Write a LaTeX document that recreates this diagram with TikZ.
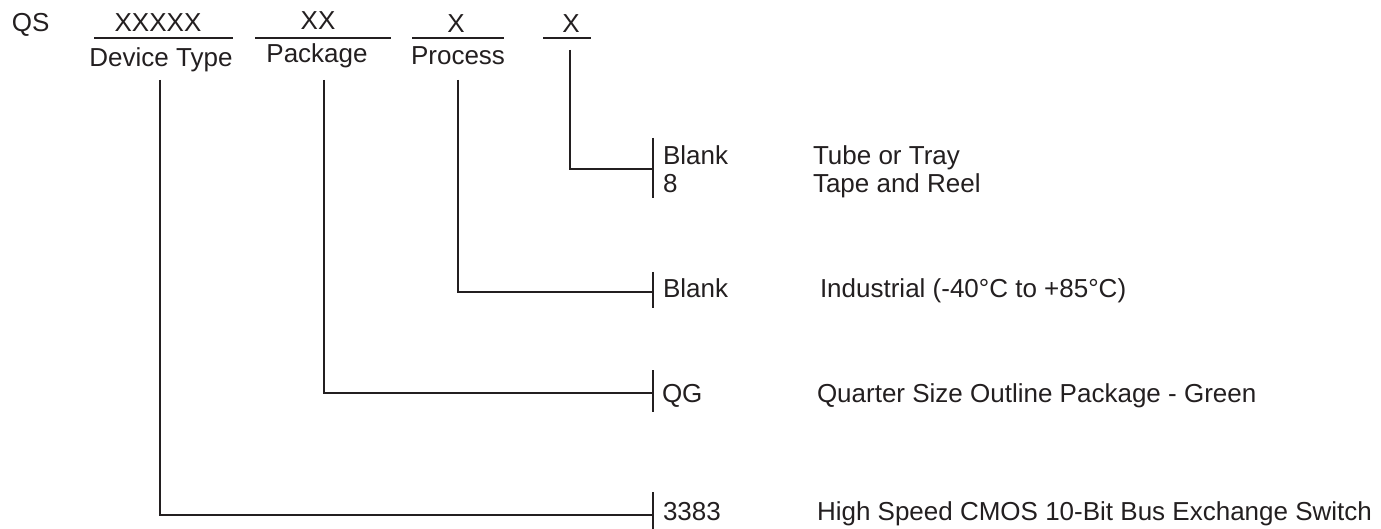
\documentclass[tikz,border=0pt]{standalone}
\usepackage{fontspec}
\setmainfont{Liberation Sans}
\definecolor{ink}{HTML}{231F20}
\begin{document}
\begin{tikzpicture}[x=1pt,y=-1pt,
  lbl/.style={inner sep=0pt,outer sep=0pt,text=ink,font=\fontsize{26}{30}\selectfont},
  ln/.style={draw=ink,line width=2pt}]
\useasboundingbox (0,0) rectangle (1381,529);
% header
\node[lbl,anchor=base west] (qs) at (12,32) {QS};
\node[lbl,anchor=base] (f1) at (158,32) {XXXXX};
\node[lbl,anchor=base] (f2) at (318,30) {XX};
\node[lbl,anchor=base] (f3) at (456,33) {X};
\node[lbl,anchor=base] (f4) at (571,33) {X};
\node[lbl,anchor=base] (dt) at (161,67) {Device Type};
\node[lbl,anchor=base] (pk) at (317,63) {Package};
\node[lbl,anchor=base] (pr) at (458,65) {Process};
% underlines
\coordinate (u1a) at (94,38);  \coordinate (u1b) at (233,38);
\coordinate (u2a) at (255,38); \coordinate (u2b) at (391,38);
\coordinate (u3a) at (412,38); \coordinate (u3b) at (504,38);
\coordinate (u4a) at (543,38); \coordinate (u4b) at (591,38);
\draw[ln] (u1a) -- (u1b);
\draw[ln] (u2a) -- (u2b);
\draw[ln] (u3a) -- (u3b);
\draw[ln] (u4a) -- (u4b);
% branch start points
\coordinate (v1) at (160,80);
\coordinate (v2) at (324,80);
\coordinate (v3) at (458,80);
\coordinate (v4) at (570,50);
% tick bars
\coordinate (t1a) at (653,138); \coordinate (t1b) at (653,198); \coordinate (t1) at (653,169);
\coordinate (t2a) at (653,272); \coordinate (t2b) at (653,308); \coordinate (t2) at (653,292);
\coordinate (t3a) at (653,370); \coordinate (t3b) at (653,412); \coordinate (t3) at (653,393);
\coordinate (t4a) at (653,492); \coordinate (t4b) at (653,529); \coordinate (t4) at (653,515);
\draw[ln] (t1a) -- (t1b);
\draw[ln] (t2a) -- (t2b);
\draw[ln] (t3a) -- (t3b);
\draw[ln] (t4a) -- (t4b);
% connectors
\draw[ln] (v4) |- (t1);
\draw[ln] (v3) |- (t2);
\draw[ln] (v2) |- (t3);
\draw[ln] (v1) |- (t4);
% right labels
\node[lbl,anchor=base west] (c1) at (663,165) {Blank};
\node[lbl,anchor=base west] (c2) at (663,193) {8};
\node[lbl,anchor=base west] (d1) at (813,165) {Tube or Tray};
\node[lbl,anchor=base west] (d2) at (813,193) {Tape and Reel};
\node[lbl,anchor=base west] (c3) at (663,298) {Blank};
\node[lbl,anchor=base west] (d3) at (820,298) {Industrial (-40°C to +85°C)};
\node[lbl,anchor=base west] (c4) at (662,402) {QG};
\node[lbl,anchor=base west] (d4) at (817,402) {Quarter Size Outline Package - Green};
\node[lbl,anchor=base west] (c5) at (663,520) {3383};
\node[lbl,anchor=base west] (d5) at (817,520) {High Speed CMOS 10-Bit Bus Exchange Switch};
\end{tikzpicture}
\end{document}
